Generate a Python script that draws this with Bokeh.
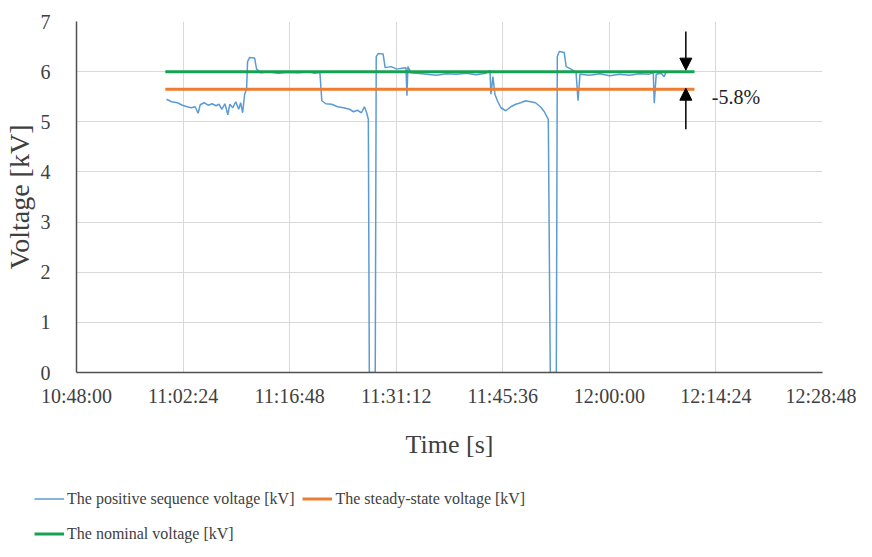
from bokeh.plotting import figure
from bokeh.layouts import column
from bokeh.models import FixedTicker, Legend, LegendItem, Arrow, NormalHead, Label, Range1d
from bokeh.embed import file_html
from bokeh.resources import INLINE


def hms(s):
    h, m, sec = map(int, s.split(":"))
    return h * 3600 + m * 60 + sec


x_tick_labels = ["10:48:00", "11:02:24", "11:16:48", "11:31:12",
                 "11:45:36", "12:00:00", "12:14:24", "12:28:48"]
y_ticks = [0, 1, 2, 3, 4, 5, 6, 7]

pos_seq_time = [
    "11:00:10", "11:00:50", "11:01:38", "11:02:18", "11:02:58", "11:03:30", "11:04:02", "11:04:26",
    "11:04:43", "11:05:15", "11:05:47", "11:06:19", "11:06:51", "11:07:15", "11:07:39", "11:08:03",
    "11:08:27", "11:08:43", "11:09:07", "11:09:31", "11:09:55", "11:10:11", "11:10:27", "11:10:43",
    "11:10:59", "11:11:07", "11:11:23", "11:12:04", "11:12:20", "11:12:52", "11:13:56", "11:15:16",
    "11:16:36", "11:17:56", "11:19:17", "11:20:05", "11:20:53", "11:21:09", "11:21:41", "11:22:29",
    "11:23:17", "11:24:05", "11:24:53", "11:25:26", "11:25:58", "11:26:30", "11:26:54", "11:27:10",
    "11:27:26", "11:27:34", "11:28:22", "11:28:30", "11:28:46", "11:29:26", "11:29:42", "11:30:30",
    "11:31:18", "11:31:59", "11:32:31", "11:32:39", "11:32:47", "11:33:11", "11:33:59", "11:35:19",
    "11:36:39", "11:37:59", "11:39:20", "11:40:40", "11:42:00", "11:43:20", "11:43:52", "11:44:00",
    "11:44:16", "11:44:32", "11:44:56", "11:45:21", "11:46:01", "11:46:41", "11:47:21", "11:48:01",
    "11:48:41", "11:49:21", "11:50:01", "11:50:41", "11:51:13", "11:51:45", "11:52:01", "11:52:50",
    "11:52:58", "11:53:14", "11:53:54", "11:54:10", "11:54:50", "11:55:30", "11:55:46", "11:56:02",
    "11:57:22", "11:58:43", "12:00:03", "12:01:23", "12:02:43", "12:04:03", "12:05:24", "12:05:56",
    "12:06:04", "12:06:20", "12:07:00", "12:07:24", "12:07:40", "12:07:56",
]
pos_seq_kv = [
    5.45, 5.40, 5.38, 5.33, 5.30, 5.28, 5.30, 5.17,
    5.34, 5.38, 5.33, 5.36, 5.32, 5.35, 5.25, 5.36,
    5.14, 5.35, 5.28, 5.40, 5.25, 5.38, 5.18, 5.55,
    5.65, 6.20, 6.28, 6.27, 6.05, 5.98, 6.00, 5.97,
    5.99, 5.98, 6.00, 5.97, 5.99, 5.42, 5.36, 5.35,
    5.30, 5.28, 5.25, 5.20, 5.23, 5.18, 5.30, 5.20,
    5.05, 0.00, 0.00, 6.30, 6.36, 6.35, 6.08, 6.10,
    6.05, 6.07, 6.08, 5.52, 6.10, 5.98, 5.97, 5.95,
    5.93, 5.96, 5.95, 5.97, 5.94, 5.97, 6.02, 5.55,
    5.90, 5.55, 5.40, 5.28, 5.22, 5.30, 5.35, 5.38,
    5.42, 5.40, 5.38, 5.30, 5.20, 5.05, 0.00, 0.00,
    6.30, 6.40, 6.38, 6.10, 6.05, 5.98, 5.42, 5.95,
    5.93, 5.96, 5.92, 5.95, 5.93, 5.96, 5.95, 5.98,
    5.37, 5.95, 5.97, 5.90, 6.00, 5.98,
]

steady_time = ["11:00:00", "12:11:30"]
steady_kv = [5.65, 5.65]
nominal_time = ["11:00:00", "12:11:30"]
nominal_kv = [6.0, 6.0]

series_labels = ["The positive sequence voltage [kV]",
                 "The steady-state voltage [kV]",
                 "The nominal voltage [kV]"]

arrow_time = "12:10:20"
drop_label = "-5.8%"
drop_label_time = "12:13:50"

FONT = "'Liberation Serif', 'Times New Roman', serif"
TXT = "#404040"
BLUE, ORANGE, GREEN = "#5B9BD5", "#ED7D31", "#17A152"

# ---------------- main chart ----------------
p = figure(width=856, height=462, output_backend="svg", toolbar_location=None,
           x_range=Range1d(hms(x_tick_labels[0]), hms(x_tick_labels[-1])),
           y_range=Range1d(0, 7),
           min_border_left=76, min_border_right=34, min_border_top=21, min_border_bottom=90)
p.frame_align = False
p.outline_line_color = None
p.background_fill_color = "white"
p.border_fill_color = "white"

p.line([hms(t) for t in pos_seq_time], pos_seq_kv, line_color=BLUE, line_width=1.5)
p.line([hms(t) for t in steady_time], steady_kv, line_color=ORANGE, line_width=3)
p.line([hms(t) for t in nominal_time], nominal_kv, line_color=GREEN, line_width=3)

x_ticks = [hms(t) for t in x_tick_labels]
p.xaxis.ticker = FixedTicker(ticks=x_ticks)
p.xaxis.major_label_overrides = {k: v for k, v in zip(x_ticks, x_tick_labels)}
p.yaxis.ticker = FixedTicker(ticks=y_ticks)

for ax in (p.xaxis, p.yaxis):
    ax.major_tick_line_color = None
    ax.minor_tick_line_color = None
    ax.axis_line_color = "#505050"
    ax.axis_line_width = 1.5
    ax.major_label_text_font = FONT
    ax.major_label_text_font_size = "20px"
    ax.major_label_text_color = TXT
    ax.axis_label_text_font = FONT
    ax.axis_label_text_font_size = "26px"
    ax.axis_label_text_font_style = "normal"
    ax.axis_label_text_color = TXT

p.yaxis.axis_label_text_font_size = "28px"
p.xaxis.axis_label = "Time [s]"
p.yaxis.axis_label = "Voltage [kV]"
p.xaxis.major_label_standoff = 6
p.xaxis.axis_label_standoff = 20
p.yaxis.major_label_standoff = 20
p.yaxis.axis_label_standoff = 3

p.xgrid.grid_line_color = "#D9D9D9"
p.ygrid.grid_line_color = "#D9D9D9"

ax_t = hms(arrow_time)
p.add_layout(Arrow(end=NormalHead(size=12, fill_color="black", line_color="black"),
                   x_start=ax_t, y_start=6.8, x_end=ax_t, y_end=6.03,
                   line_color="black", line_width=1.5))
p.add_layout(Arrow(end=NormalHead(size=12, fill_color="black", line_color="black"),
                   x_start=ax_t, y_start=4.85, x_end=ax_t, y_end=5.67,
                   line_color="black", line_width=1.5))
p.add_layout(Label(x=hms(drop_label_time), y=5.5, text=drop_label, text_font=FONT,
                   text_font_size="20px", text_color="#222222", text_baseline="middle"))

# ---------------- legend strip ----------------
lg = figure(width=856, height=88, output_backend="svg", toolbar_location=None,
            x_range=Range1d(0, 1), y_range=Range1d(0, 1),
            x_axis_location=None, y_axis_location=None,
            min_border_left=0, min_border_right=0, min_border_top=0, min_border_bottom=0)
lg.frame_align = False
lg.outline_line_color = None
lg.xgrid.visible = False
lg.ygrid.visible = False
# series re-drawn outside the strip's view, only to feed the legend swatches
l1 = lg.line([hms(t) for t in pos_seq_time], pos_seq_kv, line_color=BLUE, line_width=1.5)
l2 = lg.line([hms(t) for t in steady_time], steady_kv, line_color=ORANGE, line_width=3)
l3 = lg.line([hms(t) for t in nominal_time], nominal_kv, line_color=GREEN, line_width=3)

legend = Legend(items=[
    LegendItem(label=series_labels[0], renderers=[l1]),
    LegendItem(label=series_labels[1], renderers=[l2]),
    LegendItem(label=series_labels[2], renderers=[l3]),
], location=(34, 3), orientation="horizontal", ncols=2)
legend.label_text_font = FONT
legend.label_text_font_size = "16px"
legend.label_text_color = TXT
legend.glyph_width = 30
legend.glyph_height = 27
legend.label_height = 27
legend.label_standoff = 3
legend.spacing = 8
legend.padding = 0
legend.margin = 0
legend.border_line_color = None
legend.background_fill_alpha = 0
lg.add_layout(legend, "center")

layout = column(p, lg, spacing=0)
open("out.html", "w").write(file_html(layout, INLINE))
